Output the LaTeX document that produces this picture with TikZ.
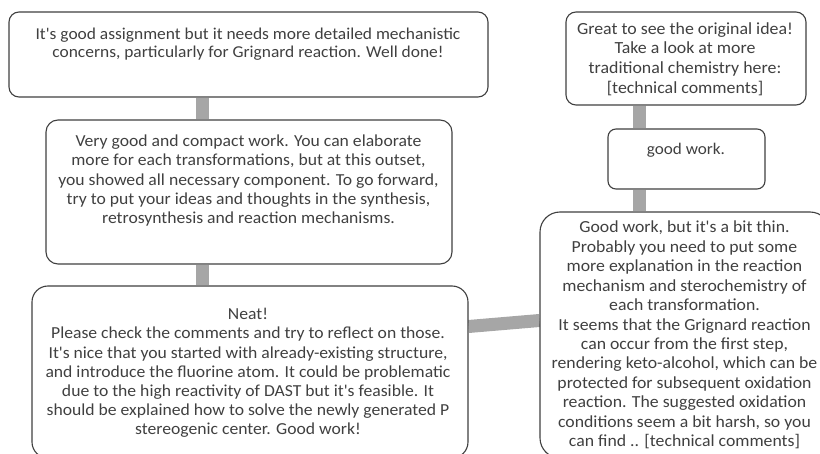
\documentclass[tikz,border=0pt]{standalone}
\usepackage{fontspec}
\setmainfont{Carlito}[FakeStretch=1.05, Ligatures=TeXOff]
\usetikzlibrary{backgrounds}
\definecolor{txt}{HTML}{404040}
\definecolor{edge}{HTML}{404040}
\definecolor{conncol}{HTML}{A6A6A6}
\tikzset{
  box/.style={draw=edge, line width=1.1pt, fill=white, inner sep=0pt, rectangle},
  txtnode/.style={text=txt, align=center, inner sep=0pt, anchor=north, font=\fontsize{16}{19}\selectfont},
  conn/.style={draw=conncol, line width=13pt, line cap=butt}
}
\begin{document}
\begin{tikzpicture}[x=1pt,y=-1pt]
\useasboundingbox (0,0) rectangle (820,454);
\clip (0,0) rectangle (820,454);
% boxes
\node[box, rounded corners=10pt, minimum width=479pt, minimum height=85pt] (b1) at (248.5,54.5) {};
\node[box, rounded corners=12pt, minimum width=406pt, minimum height=144pt] (b2) at (249,192) {};
\node[box, rounded corners=16pt, minimum width=436pt, minimum height=172pt] (b3) at (250,372) {};
\node[box, rounded corners=10pt, minimum width=240pt, minimum height=93pt] (b4) at (686,58.5) {};
\node[box, rounded corners=8pt, minimum width=157pt, minimum height=60pt] (b5) at (686.5,159) {};
\node[box, rounded corners=20pt, minimum width=290pt, minimum height=246pt] (b6) at (685,335) {};
% texts
\node[txtnode, font=\fontsize{16.6}{18.5}\selectfont] (t1) at (248,26) {\strut It's good assignment but it needs more detailed mechanistic\\concerns, particularly for Grignard reaction. Well done!};
\node[txtnode, font=\fontsize{16.8}{19.2}\selectfont] (t2) at (248.5,133) {\strut Very good and compact work. You can elaborate\\more for each transformations, but at this outset,\\you showed all necessary component. To go forward,\\try to put your ideas and thoughts in the synthesis,\\retrosynthesis and reaction mechanisms.};
\node[txtnode, font=\fontsize{16.8}{19.2}\selectfont] (t3) at (248,306) {\strut Neat!\\Please check the comments and try to reflect on those.\\It's nice that you started with already-existing structure,\\and introduce the fluorine atom. It could be problematic\\due to the high reactivity of DAST but it's feasible. It\\should be explained how to solve the newly generated P\\stereogenic center. Good work!};
\node[txtnode, font=\fontsize{17}{19.8}\selectfont] (t4) at (685,20) {\strut Great to see the original idea!\\Take a look at more\\traditional chemistry here:\\{[}technical comments{]}};
\node[txtnode, font=\fontsize{16.3}{19}\selectfont] (t5) at (686,141) {\strut good work.};
\node[txtnode, font=\fontsize{16.9}{19.45}\selectfont] (t6) at (684.5,219) {\strut Good work, but it's a bit thin.\\Probably you need to put some\\more explanation in the reaction\\mechanism and sterochemistry of\\each transformation.\\It seems that the Grignard reaction\\can occur from the first step,\\rendering keto-alcohol, which can be\\protected for subsequent oxidation\\reaction. The suggested oxidation\\conditions seem a bit harsh, so you\\can find .. {[}technical comments{]}};
% connectors
\coordinate (cl) at (202.5,0);
\coordinate (cr) at (639,0);
\begin{scope}[on background layer]
\draw[conn] (b1.south -| cl) -- (b2.north -| cl);
\draw[conn] (b2.south -| cl) -- (b3.north -| cl);
\draw[conn] (b4.south -| cr) -- (b5.north -| cr);
\draw[conn] (b5.south -| cr) -- (b6.north -| cr);
\draw[conn] ([yshift=45.5pt]b3.east) -- ([yshift=14.5pt]b6.west);
\end{scope}
\end{tikzpicture}
\end{document}
